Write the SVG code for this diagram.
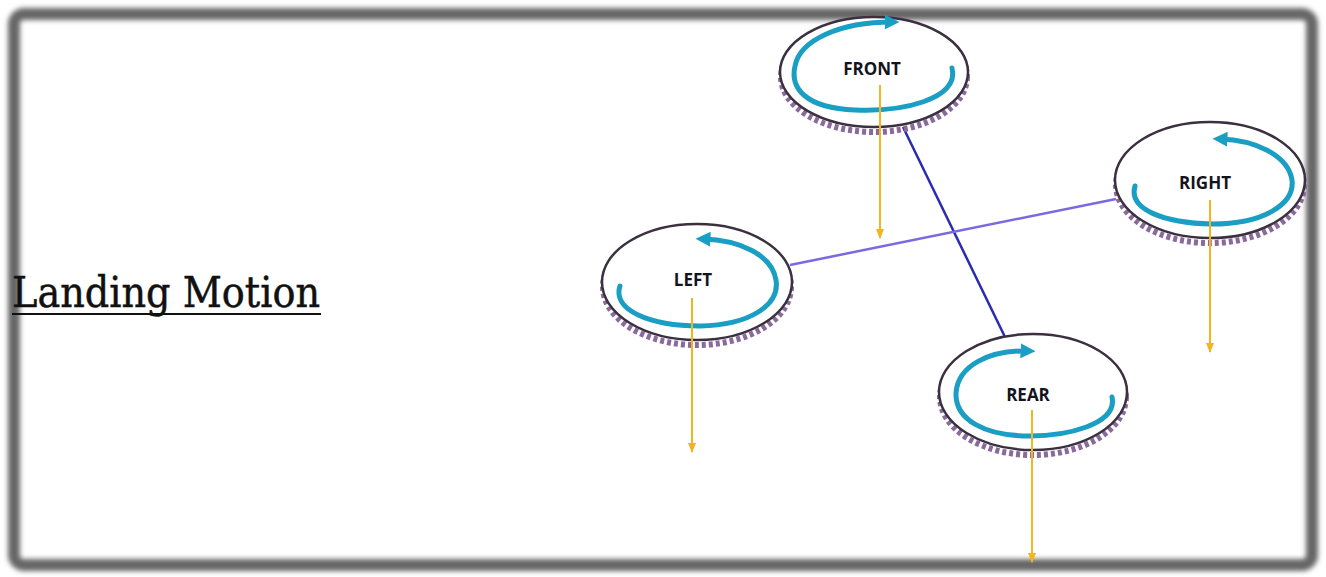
<svg xmlns="http://www.w3.org/2000/svg" width="1326" height="577" viewBox="0 0 1326 577">
  <style>
    .disc-edge { fill: none; stroke: #8a6a9a; stroke-width: 6; stroke-dasharray: 4 3; }
    .disc-rim { fill: #ffffff; stroke: #3a3040; stroke-width: 2.5; }
    .spin { fill: none; stroke: #1a9ec4; stroke-width: 5; stroke-linecap: round; }
    .thrust { stroke: #f2b51c; stroke-width: 2; marker-end: url(#thrustHead); }
    .label { font-family: "Open Sans", "Liberation Sans", sans-serif; font-weight: bold; font-size: 17px; fill: #141420; text-anchor: middle; }
  </style>
  <defs>
    <filter id="soft" x="-5%" y="-5%" width="110%" height="110%">
      <feGaussianBlur stdDeviation="2.5"/>
    </filter>
    <marker id="spinHead" viewBox="0 0 10 10" refX="5" refY="5" markerWidth="3" markerHeight="3" orient="auto">
      <path d="M0,0 L10,5 L0,10 Z" fill="#1a9ec4"/>
    </marker>
    <marker id="thrustHead" viewBox="0 0 10 10" refX="9" refY="5" markerWidth="5" markerHeight="5" orient="auto">
      <path d="M0,1 L10,5 L0,9 Z" fill="#f2b51c"/>
    </marker>
  </defs>

  <rect width="1326" height="577" fill="#ffffff"/>
  <!-- frame -->
  <rect x="14" y="14" width="1298" height="551" rx="10" fill="none" stroke="#666666" stroke-width="12" filter="url(#soft)"/>

  <!-- title -->
  <g id="title">
    <text x="12" y="307" font-family="'DejaVu Serif', 'Liberation Serif', serif" font-size="42" fill="#111" stroke="#111" stroke-width="0.5" textLength="308" lengthAdjust="spacingAndGlyphs">Landing Motion</text>
    <line x1="12" y1="314" x2="321" y2="314" stroke="#111" stroke-width="2"/>
  </g>

  <!-- arms -->
  <g id="connectors">
    <line x1="903" y1="127" x2="1005" y2="337" stroke="#2b2bb0" stroke-width="2.5"/>
    <line x1="790" y1="265" x2="1116" y2="199" stroke="#7a6ae0" stroke-width="2.5"/>
  </g>

  <g id="front">
    <ellipse class="disc-edge" cx="874" cy="77" rx="93" ry="55"/>
    <ellipse class="disc-rim" cx="874" cy="72" rx="94" ry="55"/>
    <path class="spin" d="M952,68 C960,100 900,112 855,110 C805,108 790,88 795,66 C800,40 840,22 892,22" marker-end="url(#spinHead)"/>
    <text class="label" x="872" y="75">FRONT</text>
    <line class="thrust" x1="880" y1="85" x2="880" y2="238"/>
  </g>

  <g id="left">
    <ellipse class="disc-edge" cx="697" cy="287" rx="94" ry="58"/>
    <ellipse class="disc-rim" cx="697" cy="282" rx="95" ry="58"/>
    <path class="spin" d="M620,286 C612,310 650,326 700,326 C750,325 780,305 776,280 C772,255 740,240 703,239" marker-end="url(#spinHead)"/>
    <text class="label" x="693" y="286">LEFT</text>
    <line class="thrust" x1="692" y1="298" x2="692" y2="452"/>
  </g>

  <g id="right">
    <ellipse class="disc-edge" cx="1210" cy="185" rx="94" ry="58"/>
    <ellipse class="disc-rim" cx="1210" cy="180" rx="95" ry="58"/>
    <path class="spin" d="M1135,186 C1128,210 1165,223 1212,224 C1262,224 1295,205 1292,180 C1288,155 1255,140 1220,139" marker-end="url(#spinHead)"/>
    <text class="label" x="1205" y="189">RIGHT</text>
    <line class="thrust" x1="1210" y1="200" x2="1210" y2="352"/>
  </g>

  <g id="rear">
    <ellipse class="disc-edge" cx="1033" cy="397" rx="93" ry="58"/>
    <ellipse class="disc-rim" cx="1033" cy="392" rx="94" ry="58"/>
    <path class="spin" d="M1112,397 C1118,425 1065,436 1030,436 C985,436 955,420 956,393 C958,365 990,350 1028,351" marker-end="url(#spinHead)"/>
    <text class="label" x="1028" y="401">REAR</text>
    <line class="thrust" x1="1032" y1="410" x2="1032" y2="562"/>
  </g>
</svg>
